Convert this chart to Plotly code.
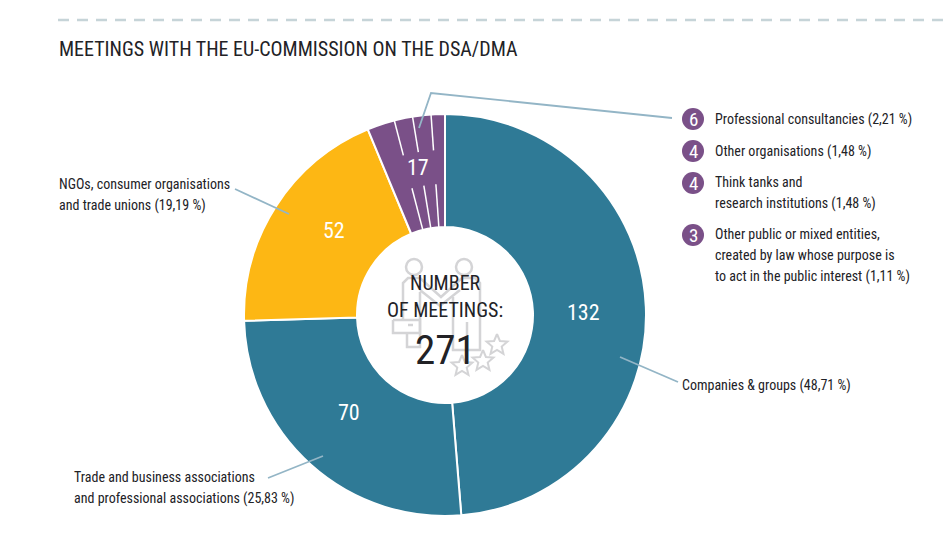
import plotly.graph_objects as go
import math

title = "MEETINGS WITH THE EU-COMMISSION ON THE DSA/DMA"
groups = ["Companies & groups", "Trade and business associations and professional associations",
          "NGOs, consumer organisations and trade unions", "Other"]
meetings = [132, 70, 52, 17]
colors = ["#2f7a96", "#2f7a96", "#fdb714", "#7a5088"]
other_counts = [6, 4, 4, 3]
total = 271

FONT = "Roboto Condensed"
DARK = "#222226"
LEADER = "#93b5c6"
ICON = "#d4d4d6"
cx, cy, R, r_hole = 445, 315, 201, 88
W, H = 946, 560

fig = go.Figure()
fig.add_trace(go.Pie(values=meetings, labels=groups, sort=False, direction="clockwise", rotation=0,
                     hole=r_hole / R, textinfo="none", hoverinfo="label+value",
                     marker=dict(colors=colors, line=dict(color="white", width=2)),
                     domain=dict(x=[(cx - R) / W, (cx + R) / W], y=[1 - (cy + R) / H, 1 - (cy - R) / H]),
                     showlegend=False))

shapes = []
def line(pts, color=LEADER, width=1.8):
    path = "M " + " L ".join(f"{x},{y}" for x, y in pts)
    shapes.append(dict(type="path", path=path, xref="x", yref="y", layer="above",
                       line=dict(color=color, width=width)))

def note(x, y, text, size=14, color=DARK, anchor="left"):
    fig.add_annotation(x=x, y=y, xref="x", yref="y", text=text, showarrow=False, xanchor=anchor,
                       yanchor="middle", font=dict(family=FONT, size=size, color=color))

# white separators inside the purple slice, with a gap for the number
cum = 0
for n in other_counts[::-1][:3]:
    cum += n
    a = math.radians(cum / total * 360)
    for r0, r1 in [(165, R), (r_hole, 131)]:
        line([(cx - r0 * math.sin(a), cy - r0 * math.cos(a)),
              (cx - r1 * math.sin(a), cy - r1 * math.cos(a))], "white", 1.5)

# dashed rule on top
shapes.append(dict(type="line", x0=58, x1=946, y0=20, y1=20, xref="x", yref="y",
                   line=dict(color="#c6d4d8", width=2.5, dash="11px,8px")))

# leader lines
line([(419, 128), (431, 93), (672, 118)])
line([(620, 357), (678, 382)])
line([(323, 456), (268, 478)])
line([(235, 189), (289, 214)])

# handshake icon
line([(403, 320), (403, 283), (408, 278), (420, 278), (441, 297), (462, 278), (475, 278), (480, 283), (480, 350), (453, 350), (453, 297)], ICON, 2.5)
line([(420, 290), (440, 306), (460, 290)], ICON, 2.5)
line([(420, 292), (420, 347), (407, 347), (407, 333)], ICON, 2.5)
line([(467, 322), (467, 350)], ICON, 2.5)
line([(393, 320), (393, 333), (420, 333), (420, 320), (393, 320)], ICON, 2.5)
line([(408, 325), (413, 325)], ICON, 2.5)
for hx in [414, 464]:
    shapes.append(dict(type="circle", x0=hx - 8, x1=hx + 8, y0=259, y1=275, xref="x", yref="y",
                       line=dict(color=ICON, width=2.5)))
for sx, sy, sr in [(462, 366, 11), (483, 361, 11), (497, 345, 11)]:
    pts = []
    for i in range(11):
        rr = sr if i % 2 == 0 else sr * 0.45
        t = math.radians(i * 36)
        pts.append((sx + rr * math.sin(t), sy - rr * math.cos(t)))
    line(pts, ICON, 2)

# purple bullets
bullet_y = [119, 151, 183, 235]
for by in bullet_y:
    shapes.append(dict(type="circle", x0=682, x1=704, y0=by - 11, y1=by + 11, xref="x", yref="y",
                       fillcolor="#7a5088", line=dict(width=0), layer="above"))

fig.update_layout(shapes=shapes)

note(57, 49, title, size=20)

# values on the donut
for (x, y), v in zip([(583, 312), (349, 412), (334, 230), (418, 167)], meetings):
    note(x, y, str(v), size=22, color="white", anchor="center")

# centre
note(445, 283, "NUMBER", size=20, anchor="center")
note(445, 310, "OF MEETINGS:", size=20, anchor="center")
note(445, 350, str(total), size=41, anchor="center")

for by, n in zip(bullet_y, other_counts):
    note(693, by, str(n), size=19, color="white", anchor="center")

for x, y, t in [(713, 119, "Professional consultancies (2,21 %)"),
                (713, 151, "Other organisations (1,48 %)"),
                (713, 182, "Think tanks and"),
                (713, 203, "research institutions (1,48 %)"),
                (713, 234, "Other public or mixed entities,"),
                (713, 255, "created by law whose purpose is"),
                (713, 276, "to act in the public interest (1,11 %)"),
                (680, 385, "Companies & groups (48,71 %)"),
                (57, 184, "NGOs, consumer organisations"),
                (57, 205, "and trade unions (19,19 %)"),
                (72, 477, "Trade and business associations"),
                (72, 498, "and professional associations (25,83 %)")]:
    note(x, y, t)

fig.update_layout(width=W, height=H, margin=dict(l=0, r=0, t=0, b=0),
                  paper_bgcolor="white", plot_bgcolor="white",
                  xaxis=dict(range=[0, W], visible=False, fixedrange=True),
                  yaxis=dict(range=[H, 0], visible=False, fixedrange=True))
fig.write_html("out.html", config=dict(displayModeBar=False), post_script="document.body.style.margin='0';")
